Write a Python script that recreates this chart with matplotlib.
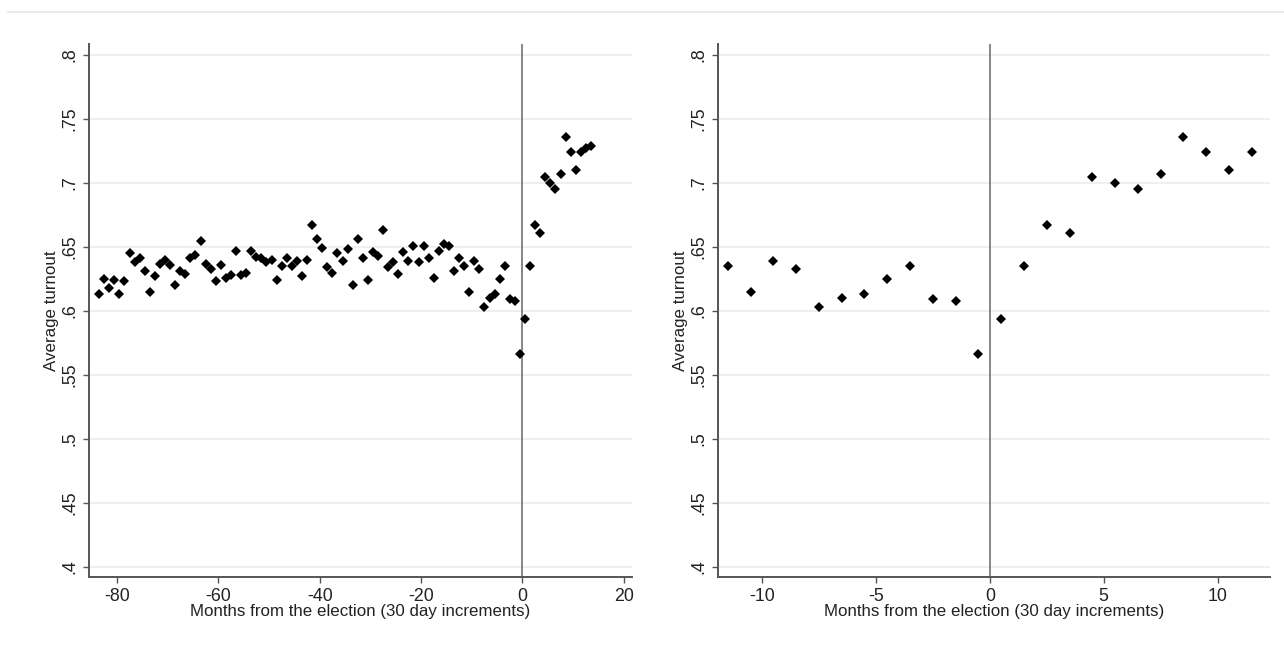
import numpy as np
import matplotlib
matplotlib.use("Agg")
import matplotlib.pyplot as plt
from matplotlib.lines import Line2D

plt.rcParams["font.family"] = ["Liberation Sans", "DejaVu Sans"]
plt.rcParams["axes.unicode_minus"] = False

# months from the election (bin midpoints, 30 day increments)
months = np.arange(-83.5, 13.6, 1.0)

# average turnout per month
turnout = [
    0.613, 0.625, 0.618, 0.624, 0.613, 0.623, 0.645, 0.638, 0.641, 0.631,
    0.615, 0.627, 0.637, 0.640, 0.636, 0.620, 0.631, 0.629, 0.641, 0.644,
    0.655, 0.637, 0.633, 0.623, 0.636, 0.626, 0.628, 0.647, 0.628, 0.630,
    0.647, 0.642, 0.641, 0.638, 0.640, 0.624, 0.635, 0.641, 0.635, 0.639,
    0.627, 0.640, 0.667, 0.656, 0.649, 0.634, 0.630, 0.645, 0.639, 0.648,
    0.620, 0.656, 0.641, 0.624, 0.646, 0.643, 0.663, 0.634, 0.638, 0.629,
    0.646, 0.639, 0.651, 0.638, 0.651, 0.641, 0.626, 0.647, 0.652, 0.651,
    0.631, 0.641, 0.635, 0.615, 0.639, 0.633, 0.603, 0.610, 0.613, 0.625,
    0.635, 0.609, 0.608, 0.566, 0.594, 0.635, 0.667, 0.661, 0.705, 0.700,
    0.695, 0.707, 0.736, 0.724, 0.710, 0.724, 0.727, 0.729,
]
turnout = np.array(turnout)

y_ticks = [0.4, 0.45, 0.5, 0.55, 0.6, 0.65, 0.7, 0.75, 0.8]
y_labels = [".4", ".45", ".5", ".55", ".6", ".65", ".7", ".75", ".8"]
x_ticks_left = [-80, -60, -40, -20, 0, 20]
x_ticks_right = [-10, -5, 0, 5, 10]

xlabel = "Months from the election (30 day increments)"
ylabel = "Average turnout"

W, H = 1284, 650
fig = plt.figure(figsize=(W / 100, H / 100), dpi=100)

# faint frame line at the top
fig.add_artist(Line2D([8 / W, 1.0], [1 - 12 / H, 1 - 12 / H],
                      color="#e6e6e6", lw=1.2, transform=fig.transFigure))

text_col = "#222222"
spine_col = "#555555"


def style_panel(ax, x, y, xlim, xticks):
    ax.plot(x, y, linestyle="none", marker="D", ms=5.2, color="black",
            markeredgewidth=0, zorder=3)
    ax.axvline(0, color="#666666", lw=1.1, zorder=2)
    ax.set_xlim(*xlim)
    ax.set_ylim(0.392, 0.8086)
    ax.set_yticks(y_ticks)
    ax.set_yticklabels(y_labels, rotation=90, va="center")
    ax.set_xticks(xticks)
    ax.set_xticklabels([str(t) for t in xticks])
    ax.grid(axis="y", color="#ebebeb", lw=1.1, zorder=0)
    ax.set_axisbelow(True)
    for s in ("top", "right"):
        ax.spines[s].set_visible(False)
    for s in ("left", "bottom"):
        ax.spines[s].set_color(spine_col)
        ax.spines[s].set_linewidth(1.4)
    ax.tick_params(axis="both", colors=spine_col, labelcolor=text_col,
                   labelsize=12.8, length=4, width=1)
    ax.tick_params(axis="x", pad=4)
    ax.tick_params(axis="y", pad=4)
    ax.set_xlabel(xlabel, fontsize=12.2, color=text_col, labelpad=-1)
    ax.set_ylabel(ylabel, fontsize=12.2, color=text_col, labelpad=1)


ax1 = fig.add_axes([89 / W, (H - 577) / H, 543 / W, 533 / H])
style_panel(ax1, months, turnout, (-85.5, 21.6), x_ticks_left)

near = np.abs(months) < 12
ax2 = fig.add_axes([718 / W, (H - 577) / H, 552 / W, 533 / H])
style_panel(ax2, months[near], turnout[near], (-11.93, 12.3), x_ticks_right)

fig.savefig("out.png", dpi=100)
